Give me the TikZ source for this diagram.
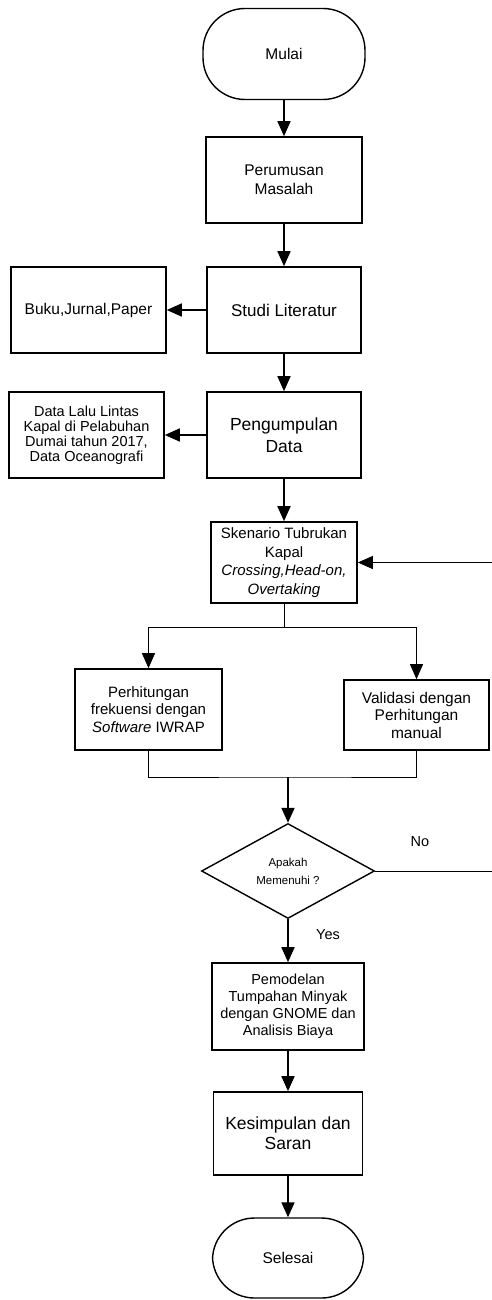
\documentclass[tikz,border=0pt]{standalone}
\usepackage{fontspec}
\setmainfont{Liberation Sans}
\usetikzlibrary{arrows.meta,shapes.geometric}
\begin{document}
\begin{tikzpicture}[x=1pt,y=-1pt,
  box/.style={draw, line width=1.6pt, align=center, inner sep=2pt},
  term/.style={draw, line width=1.4pt, rounded corners=42pt, align=center},
  dec/.style={draw, diamond, line width=1.4pt, inner sep=0pt, align=center},
  thk/.style={line width=1.7pt, -{Triangle[length=15pt,width=13pt]}},
  thn/.style={line width=0.8pt},
  thna/.style={line width=0.8pt, -{Triangle[length=15pt,width=13pt]}},
  lbl/.style={font=\fontsize{14.5}{17}\selectfont}
]
\useasboundingbox (0,0) rectangle (491,1300);

\node[term, minimum width=162pt, minimum height=91pt, font=\fontsize{15.5}{19}\selectfont] (mulai) at (284,54) {Mulai};
\node[box, minimum width=156pt, minimum height=86pt, font=\fontsize{15.5}{19}\selectfont] (rumus) at (284,180) {Perumusan\\Masalah};
\node[box, minimum width=154pt, minimum height=86pt, font=\fontsize{17}{20}\selectfont] (studi) at (284,310) {Studi Literatur};
\node[box, minimum width=155pt, minimum height=86pt, font=\fontsize{15.5}{19}\selectfont] (buku) at (88.5,310) {Buku,Jurnal,Paper};
\node[box, minimum width=154pt, minimum height=86pt, font=\fontsize{17.5}{22}\selectfont] (kumpul) at (284,435) {Pengumpulan\\Data};
\node[box, minimum width=155pt, minimum height=86pt, font=\fontsize{14.5}{15}\selectfont] (data) at (86.5,435) {Data Lalu Lintas\\Kapal di Pelabuhan\\Dumai tahun 2017,\\Data Oceanografi};
\node[box, minimum width=146pt, minimum height=81pt, font=\fontsize{15}{18.5}\selectfont] (sken) at (284,562.5) {Skenario Tubrukan\\Kapal\\\textit{Crossing,Head-on,}\\\textit{Overtaking}};
\node[box, minimum width=147pt, minimum height=81pt, font=\fontsize{15}{17.5}\selectfont] (perh) at (148.5,709.5) {Perhitungan\\frekuensi dengan\\\textit{Software} IWRAP};
\node[box, minimum width=145pt, minimum height=70pt, font=\fontsize{15.5}{17.5}\selectfont] (val) at (416.5,715) {Validasi dengan\\Perhitungan\\manual};
\node[dec, minimum width=173pt, minimum height=95pt, font=\fontsize{11.5}{18}\selectfont] (dec) at (288,871) {Apakah\\Memenuhi ?};
\node[box, minimum width=152pt, minimum height=87pt, font=\fontsize{14.5}{17}\selectfont] (model) at (288,1006.5) {Pemodelan\\Tumpahan Minyak\\dengan GNOME dan\\Analisis Biaya};
\node[box, minimum width=149pt, minimum height=83pt, font=\fontsize{17.5}{20}\selectfont] (simp) at (288,1133.5) {Kesimpulan dan\\Saran};
\node[term, minimum width=151pt, minimum height=80pt, font=\fontsize{15.5}{19}\selectfont] (selesai) at (288,1258) {Selesai};

\node[lbl] (no) at (420,842) {No};
\node[lbl] (yes) at (328,935) {Yes};

\coordinate (s1) at (284,627);
\coordinate (m1) at (288,777);
\coordinate (fb1) at (492,871);
\coordinate (fb2) at (492,562.5);

\draw[thk] (mulai) -- (rumus);
\draw[thk] (rumus) -- (studi);
\draw[thk] (studi) -- (buku);
\draw[thk] (studi) -- (kumpul);
\draw[thk] (kumpul) -- (data);
\draw[thk] (kumpul) -- (sken);
\draw[thn] (sken) -- (s1);
\draw[thna] (s1) -| (perh.north);
\draw[thna] (s1) -| (val.north);
\draw[thn] (perh.south) |- (m1) -| (val.south);
\draw[thk] (m1) -- (dec.north);
\draw[thna] (dec.east) -- (fb1) -- (fb2) -- (sken.east);
\draw[thk] (dec) -- (model);
\draw[thk] (model) -- (simp);
\draw[thk] (simp) -- (selesai);
\end{tikzpicture}
\end{document}
